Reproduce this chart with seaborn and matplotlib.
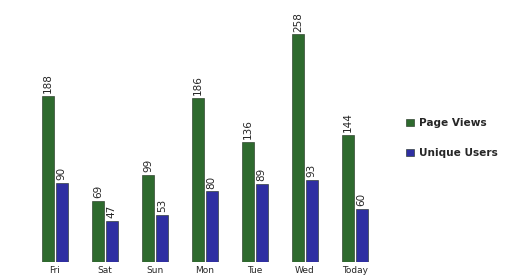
import pandas as pd
import matplotlib
matplotlib.use("Agg")
import matplotlib.pyplot as plt
import seaborn as sns

days = ["Fri", "Sat", "Sun", "Mon", "Tue", "Wed", "Today"]
page_views = [188, 69, 99, 186, 136, 258, 144]
unique_users = [90, 47, 53, 80, 89, 93, 60]
series = ["Page Views", "Unique Users"]
colors = ["#2e6a2e", "#2f2fa2"]

df = pd.DataFrame({
    "day": days * 2,
    "value": page_views + unique_users,
    "series": [series[0]] * len(days) + [series[1]] * len(days),
})

sns.set_style("white")
fig = plt.figure(figsize=(5.06, 2.8), dpi=100)
ax = fig.add_axes([30 / 506, 18 / 280, 350 / 506, 254 / 280])

sns.barplot(data=df, x="day", y="value", hue="series", palette=colors,
            saturation=1, width=0.54, gap=0.1, edgecolor="#1a2a1a",
            linewidth=0.4, ax=ax, legend=True)

for cont in ax.containers:
    ax.bar_label(cont, rotation=90, fontsize=7.5, padding=2)

ax.set_ylim(0, 288)
ax.set_xlabel("")
ax.set_ylabel("")
ax.set_yticks([])
ax.tick_params(axis="x", length=0, labelsize=6.5, pad=3)
sns.despine(ax=ax, left=True, bottom=True)

h, l = ax.get_legend_handles_labels()
ax.get_legend().remove()
# the reference clips "Unique Users" at the right edge; keep it just inside
fig.legend(h, l, loc="upper left", bbox_to_anchor=(402 / 506, 1 - 114 / 280),
           frameon=False, prop={"size": 7.6, "weight": "bold"},
           handlelength=0.75, handleheight=0.75, labelspacing=1.9,
           handletextpad=0.5, borderaxespad=0)

fig.savefig("out.png", dpi=100)
